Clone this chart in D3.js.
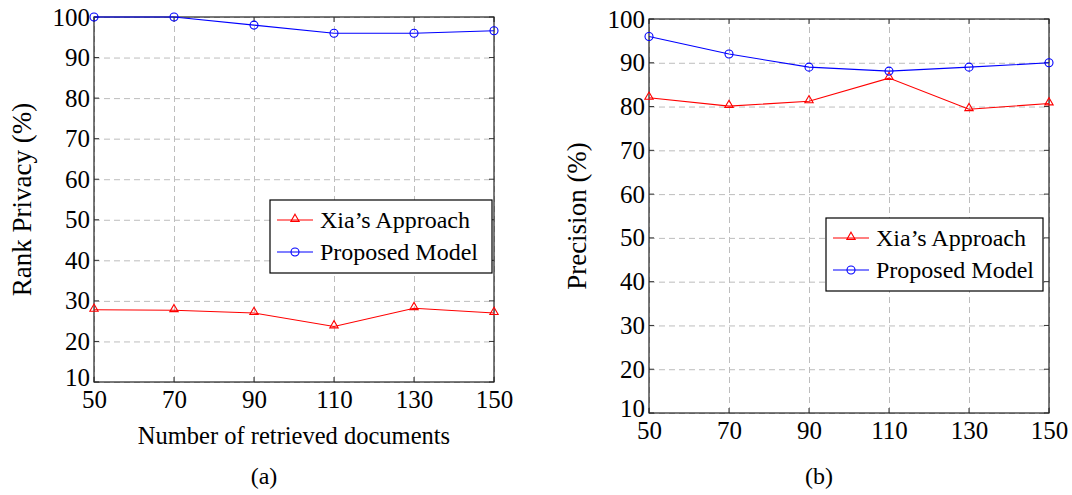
<!DOCTYPE html>
<html>
<head>
<meta charset="utf-8">
<script src="https://cdn.jsdelivr.net/npm/d3@7"></script>
<style>
  body { margin: 0; background: #fff; }
  svg { display: block; }
  .serif { font-family: "Liberation Serif"; fill: #000; }
</style>
</head>
<body>
<svg id="chart" width="1072" height="495"></svg>
<script>
// data
var docs = [50, 70, 90, 110, 130, 150];
var yTicks = [10, 20, 30, 40, 50, 60, 70, 80, 90, 100];
var seriesNames = ["Xia\u2019s Approach", "Proposed Model"];

var privacyXia = [27.8, 27.7, 27.0, 23.7, 28.2, 27.0];
var privacyProposed = [100, 100, 98, 96, 96, 96.6];

var precisionXia = [82.0, 80.1, 81.2, 86.5, 79.4, 80.7];
var precisionProposed = [96.0, 92.0, 89.0, 88.1, 89.0, 90.0];

var svg = d3.select('#chart');

var drawPanel = function (opt) {
    var x = d3.scaleLinear().domain([50, 150]).range([opt.left, opt.right]);
    var y = d3.scaleLinear().domain([10, 100]).range([opt.bottom, opt.top]);
    var w = opt.right - opt.left, h = opt.bottom - opt.top;
    var g = svg.append('g');

    // grid
    g.append('g')
        .attr('transform', 'translate(0,' + opt.bottom + ')')
        .call(d3.axisBottom(x).tickValues(docs).tickSize(-h).tickFormat(''))
        .call(function (s) { s.select('.domain').remove(); });
    g.append('g')
        .attr('transform', 'translate(' + opt.left + ',0)')
        .call(d3.axisLeft(y).tickValues(yTicks).tickSize(-w).tickFormat(''))
        .call(function (s) { s.select('.domain').remove(); });
    g.selectAll('.tick line')
        .attr('stroke', '#bdbdbd')
        .attr('stroke-width', 1)
        .attr('stroke-dasharray', '6,4');

    // inner ticks on all sides
    var tk = g.append('g').attr('stroke', '#333').attr('stroke-width', 1);
    yTicks.forEach(function (v) {
        tk.append('line').attr('x1', opt.left).attr('x2', opt.left + 5).attr('y1', y(v)).attr('y2', y(v));
        tk.append('line').attr('x1', opt.right - 5).attr('x2', opt.right).attr('y1', y(v)).attr('y2', y(v));
    });
    docs.forEach(function (v) {
        tk.append('line').attr('x1', x(v)).attr('x2', x(v)).attr('y1', opt.bottom).attr('y2', opt.bottom - 5);
        tk.append('line').attr('x1', x(v)).attr('x2', x(v)).attr('y1', opt.top).attr('y2', opt.top + 5);
    });

    // frame
    g.append('rect')
        .attr('x', opt.left).attr('y', opt.top)
        .attr('width', w).attr('height', h)
        .attr('fill', 'none').attr('stroke', '#222').attr('stroke-width', 1.2);

    // tick labels
    var yl = g.append('g')
        .attr('transform', 'translate(' + opt.left + ',0)')
        .call(d3.axisLeft(y).tickValues(yTicks).tickSize(0).tickPadding(4));
    var xl = g.append('g')
        .attr('transform', 'translate(0,' + opt.bottom + ')')
        .call(d3.axisBottom(x).tickValues(docs).tickSize(0).tickPadding(8));
    [yl, xl].forEach(function (a) {
        a.attr('font-family', null).attr('font-size', null);
        a.select('.domain').remove();
        a.selectAll('text')
            .attr('class', 'serif')
            .style('font-size', '25px')
            .attr('fill', '#000');
    });
    // lowest y label sits a little higher so it clears the x labels
    yl.selectAll('text').filter(function (d) { return d === 10; }).attr('dy', '0.12em');

    // y title
    g.append('text')
        .attr('class', 'serif')
        .attr('transform', 'translate(' + opt.ytx + ',' + (opt.top + h / 2) + ') rotate(-90)')
        .attr('text-anchor', 'middle')
        .attr('dominant-baseline', 'central')
        .style('font-size', '27px')
        .text(opt.ytitle);

    if (opt.xtitle) {
        g.append('text')
            .attr('class', 'serif')
            .attr('x', opt.left + w / 2).attr('y', opt.bottom + 62)
            .attr('text-anchor', 'middle')
            .style('font-size', '24.5px')
            .text(opt.xtitle);
    }

    g.append('text')
        .attr('class', 'serif')
        .attr('x', opt.left + w / 2 - 30).attr('y', 484)
        .attr('text-anchor', 'middle')
        .style('font-size', '24px')
        .text(opt.caption);

    var line = d3.line()
        .x(function (d, i) { return x(docs[i]); })
        .y(function (d) { return y(d); });

    var tri = d3.symbol().type(d3.symbolTriangle).size(30);

    // Xia
    g.append('path').datum(opt.xia)
        .attr('fill', 'none').attr('stroke', '#ff0000').attr('stroke-width', 1.1)
        .attr('d', line);
    g.selectAll('.tri').data(opt.xia).enter().append('path')
        .attr('transform', function (d, i) { return 'translate(' + x(docs[i]) + ',' + (y(d) - 1) + ')'; })
        .attr('d', tri)
        .attr('fill', 'none').attr('stroke', '#ff0000').attr('stroke-width', 1.1);

    // Proposed
    g.append('path').datum(opt.prop)
        .attr('fill', 'none').attr('stroke', '#0000ff').attr('stroke-width', 1.1)
        .attr('d', line);
    g.selectAll('.circ').data(opt.prop).enter().append('circle')
        .attr('cx', function (d, i) { return x(docs[i]); })
        .attr('cy', function (d) { return y(d); })
        .attr('r', 4)
        .attr('fill', 'none').attr('stroke', '#0000ff').attr('stroke-width', 1.1);

    // legend
    var lg = g.append('g').attr('transform', 'translate(' + opt.lx + ',' + opt.ly + ')');
    lg.append('rect')
        .attr('width', opt.lw).attr('height', 73)
        .attr('fill', '#fff').attr('stroke', '#000').attr('stroke-width', 1.2);
    var colors = ['#ff0000', '#0000ff'];
    seriesNames.forEach(function (name, i) {
        var cy = 20 + i * 32;
        lg.append('line').attr('x1', 7).attr('x2', 43).attr('y1', cy).attr('y2', cy)
            .attr('stroke', colors[i]).attr('stroke-width', 1.1);
        if (i === 0) {
            lg.append('path').attr('transform', 'translate(25,' + (cy - 1) + ')')
                .attr('d', tri).attr('fill', 'none').attr('stroke', colors[i]).attr('stroke-width', 1.1);
        } else {
            lg.append('circle').attr('cx', 25).attr('cy', cy).attr('r', 4)
                .attr('fill', 'none').attr('stroke', colors[i]).attr('stroke-width', 1.1);
        }
        lg.append('text').attr('class', 'serif').attr('x', 50).attr('y', cy)
            .attr('dominant-baseline', 'central')
            .style('font-size', '24px')
            .text(name);
    });
};

drawPanel({
    left: 94, right: 494, top: 17, bottom: 382,
    xia: privacyXia, prop: privacyProposed,
    ytitle: 'Rank Privacy (%)', ytx: 22,
    xtitle: 'Number of retrieved documents',
    caption: '(a)',
    lx: 270, ly: 200, lw: 222
});

drawPanel({
    left: 649, right: 1049, top: 19, bottom: 413,
    xia: precisionXia, prop: precisionProposed,
    ytitle: 'Precision (%)', ytx: 577,
    xtitle: null,
    caption: '(b)',
    lx: 826, ly: 218, lw: 217
});
</script>
</body>
</html>
